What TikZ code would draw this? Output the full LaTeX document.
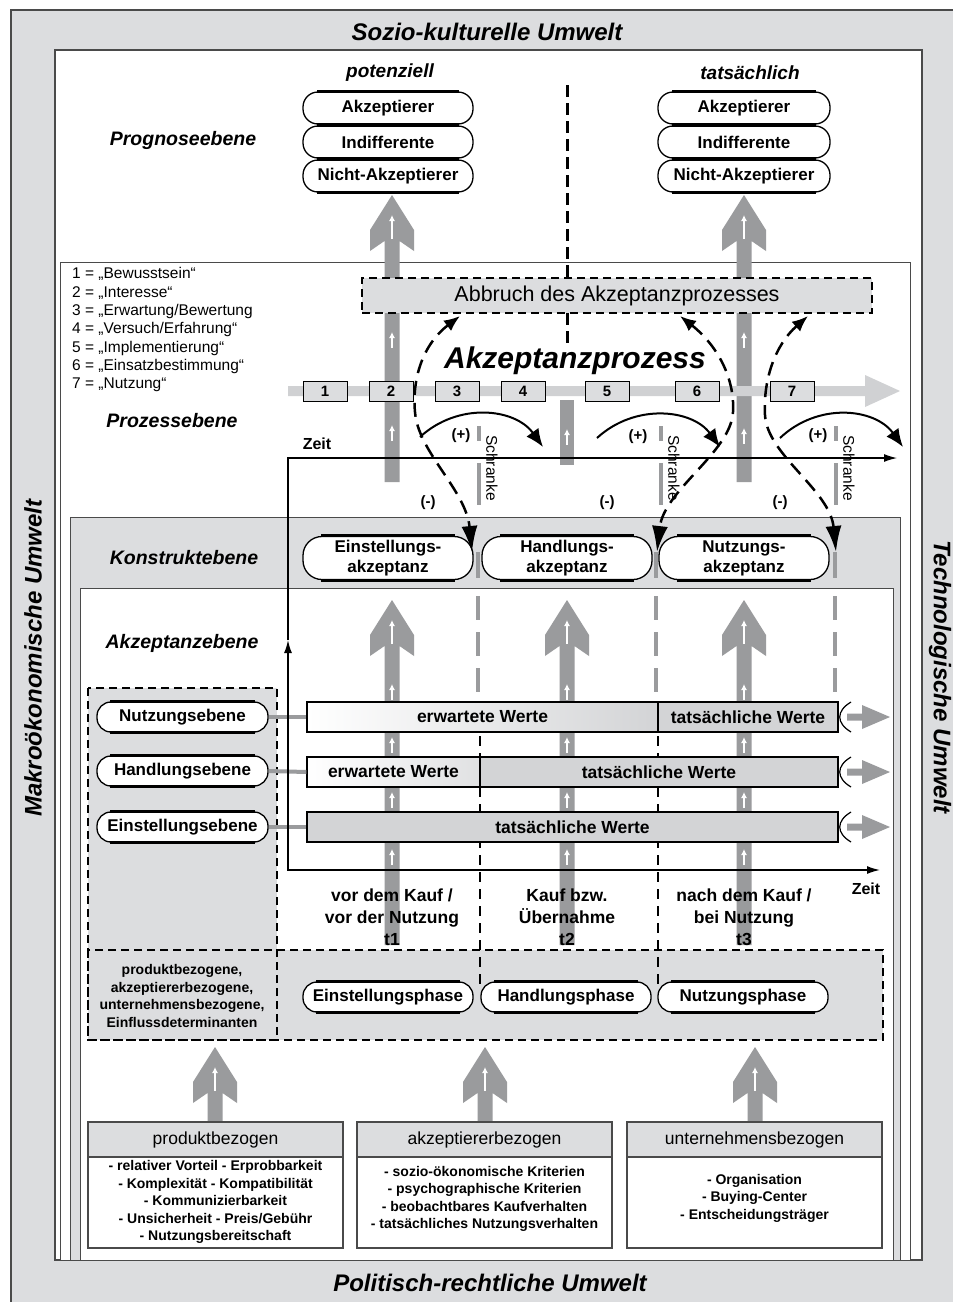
\documentclass[tikz,border=0pt]{standalone}
\usepackage{fontspec}
\setmainfont{Liberation Sans}
\usetikzlibrary{arrows.meta}
\definecolor{bg}{HTML}{DCDDDF}
\definecolor{arr}{HTML}{9A9B9D}
\definecolor{frm}{HTML}{4A4A4A}
\definecolor{lightarr}{HTML}{D0D1D3}
\definecolor{barfill}{HTML}{D3D4D6}
\newcommand\fsz[2]{\fontsize{#1}{#2}\selectfont}
\tikzset{
  pillbox/.style={draw, line width=1.3pt, fill=white, rounded corners=#1, inner sep=0pt, align=center, font=\bfseries\fsz{17}{20}},
  numbox/.style={draw, line width=0.9pt, fill=bg, minimum width=44pt, minimum height=20pt, inner sep=0pt, font=\bfseries\fsz{15}{15}},
  lvl/.style={font=\bfseries\itshape\fsz{19.5}{20}},
  env/.style={font=\bfseries\itshape\fsz{24}{24}},
  legend/.style={anchor=west, inner sep=0pt, font=\fsz{15.5}{15.5}},
  lbl/.style={font=\bfseries\fsz{15}{15}},
  seg/.style={draw, line width=1.2pt, minimum height=30pt, inner sep=0pt, font=\bfseries\fsz{17.5}{18}},
  dcurve/.style={line width=2.5pt, dash pattern=on 14pt off 8pt, {Latex[length=16pt,width=13pt]}-{Latex[length=26pt,width=16pt]}},
  pcurve/.style={line width=2pt, -{Latex[length=18pt,width=15pt]}},
  schr/.style={arr, line width=4pt},
  hdr/.style={draw=frm, line width=1.5pt, fill=bg, minimum width=255pt, minimum height=35pt, inner sep=0pt, font=\fsz{17.5}{17.5}},
  bodytxt/.style={align=center, inner sep=0pt, font=\bfseries\fsz{14}{17.4}},
  ddash/.style={line width=1.8pt, dash pattern=on 8pt off 5pt},
}
\newcommand\pill[7]{%
  \node[pillbox=#6pt, minimum width=#4pt, minimum height=#5pt] (#1) at (#2,#3) {#7};
  \draw[line width=3pt] ([xshift=#6pt]#1.north west) -- ([xshift=-#6pt]#1.north east);
  \draw[line width=3pt] ([xshift=#6pt]#1.south west) -- ([xshift=-#6pt]#1.south east);
}
\newcommand\bigarrow[3]{%
  \fill[arr] (#1-7.5,#3) -- (#1-7.5,#2+46) -- (#1-22,#2+56) -- (#1-22,#2+35) -- (#1,#2) -- (#1+22,#2+35) -- (#1+22,#2+56) -- (#1+7.5,#2+46) -- (#1+7.5,#3) -- cycle;
  \draw[white, line width=1.6pt, -{Latex[length=6pt,width=6pt]}] (#1,#2+44) -- (#1,#2+20);
}
\newcommand\smallup[2]{\draw[white, line width=1.6pt, -{Latex[length=6pt,width=6pt]}] (#1,#2+8) -- (#1,#2-8);}
\newcommand\brk[1]{%
  \draw[line width=1.2pt] (851,#1-15) .. controls (836,#1-6) and (836,#1+6) .. (851,#1+15);
  \fill[arr] (847,#1-3.5) -- (862,#1-3.5) -- (862,#1-12) -- (890,#1) -- (862,#1+12) -- (862,#1+3.5) -- (847,#1+3.5) -- cycle;
}
\begin{document}
\begin{tikzpicture}[x=1pt,y=-1pt]
\useasboundingbox (0,0) rectangle (953,1302);
% frames
\filldraw[fill=bg, draw=frm, line width=1.2pt] (11,10) rectangle (990,1340);
\filldraw[fill=white, draw=frm, line width=1.2pt] (55,50) rectangle (922,1260);
\filldraw[fill=white, draw=frm, line width=1pt] (60,262) rectangle (910,1260);
\filldraw[fill=bg, draw=frm, line width=1pt] (70,517) rectangle (900,1260);
\filldraw[fill=white, draw=frm, line width=1pt] (80,588) rectangle (893,1260);
% environment titles
\node[env] (sozio) at (487,32) {Sozio-kulturelle Umwelt};
\node[env] (polit) at (490,1283) {Politisch-rechtliche Umwelt};
\node[env, rotate=90] (makro) at (33,658) {Makroökonomische Umwelt};
\node[env, rotate=-90] (tech) at (940,677) {Technologische Umwelt};
% level labels
\node[lvl] (lprog) at (183,140) {Prognoseebene};
\node[lvl] (lproz) at (172,421) {Prozessebene};
\node[lvl] (lkon) at (184,558) {Konstruktebene};
\node[lvl] (lakz) at (182,643) {Akzeptanzebene};
% prognose
\node[font=\bfseries\itshape\fsz{19}{19}] (pot) at (390,73) {potenziell};
\node[font=\bfseries\itshape\fsz{19}{19}] (tat) at (750,73) {tatsächlich};
\pill{pa}{388}{108}{170}{32}{15}{Akzeptierer}
\pill{pi}{388}{142}{170}{32}{15}{Indifferente}
\pill{pn}{388}{176}{170}{32}{15}{Nicht-Akzeptierer}
\pill{ta}{744}{108}{172}{32}{15}{Akzeptierer}
\pill{ti}{744}{142}{172}{32}{15}{Indifferente}
\pill{tn}{744}{176}{172}{32}{15}{Nicht-Akzeptierer}
\coordinate (dtop) at (567,85);
% process shafts
\bigarrow{392}{195}{482}
\bigarrow{744}{195}{482}
\fill[arr] (560,400) rectangle (574,465);
\smallup{392}{340}\smallup{392}{433}\smallup{744}{340}\smallup{744}{436}\smallup{567}{437}
% abbruch box
\node[draw, line width=1.6pt, dash pattern=on 8pt off 5pt, fill=bg, minimum width=510pt, minimum height=35pt, inner sep=0pt, font=\fsz{21.5}{21.5}] (abbruch) at (617,295.5) {Abbruch des Akzeptanzprozesses};
\draw[line width=3pt, dash pattern=on 12pt off 6pt] (dtop) -- (dtop |- abbruch.north);
\coordinate (dmid) at (567,313);
\draw[line width=3pt, dash pattern=on 12pt off 6pt] (dmid) -- ++(0,34);
% legend
\node[legend] (l1) at (72,274) {1 = „Bewusstsein“};
\node[legend] (l2) at (72,293) {2 = „Interesse“};
\node[legend] (l3) at (72,311) {3 = „Erwartung/Bewertung};
\node[legend] (l4) at (72,329) {4 = „Versuch/Erfahrung“};
\node[legend] (l5) at (72,348) {5 = „Implementierung“};
\node[legend] (l6) at (72,366) {6 = „Einsatzbestimmung“};
\node[legend] (l7) at (72,385) {7 = „Nutzung“};
% process arrow
\node[font=\bfseries\itshape\fsz{30}{30}] (akzproz) at (575,361) {Akzeptanzprozess};
\fill[lightarr] (288,386) -- (865,386) -- (865,375) -- (900,391) -- (865,407) -- (865,396) -- (288,396) -- cycle;
\node[numbox] (n1) at (325,391) {1};
\node[numbox] (n2) at (391,391) {2};
\node[numbox] (n3) at (457,391) {3};
\node[numbox] (n4) at (523,391) {4};
\node[numbox] (n5) at (607,391) {5};
\node[numbox] (n6) at (697,391) {6};
\node[numbox] (n7) at (792,391) {7};
% time axes
\coordinate (ax0) at (288,458);
\coordinate (axm) at (288,640);
\coordinate (ax1) at (288,870);
\draw[line width=1.2pt, -{Latex[length=13pt,width=8pt]}] (axm) -- (ax0) -- (897,458);
\node[font=\bfseries\fsz{16}{16}] (zeit1) at (317,444) {Zeit};
% (+) curves
\draw[pcurve] (420,437) .. controls (458,402) and (515,408) .. (543,447);
\draw[pcurve] (597,438) .. controls (635,403) and (692,409) .. (720,447);
\draw[pcurve] (780,438) .. controls (818,402) and (875,408) .. (903,447);
\node[lbl] (p1) at (461,436) {(+)};
\node[lbl] (p2) at (638,437) {(+)};
\node[lbl] (p3) at (818,436) {(+)};
\node[lbl] (m1) at (428,503) {(-)};
\node[lbl] (m2) at (607,503) {(-)};
\node[lbl] (m3) at (780,503) {(-)};
\foreach \x in {479,661,836}{
  \draw[schr] (\x,426) -- (\x,441);
  \draw[schr] (\x,463) -- (\x,505);
  \node[rotate=-90, font=\fsz{15.5}{15.5}, inner sep=0pt] at (\x+13,468) {Schranke};
}
% construct pills
\pill{ke}{388}{558}{170}{43}{19}{Einstellungs-\\akzeptanz}
\pill{kh}{567}{558}{170}{43}{19}{Handlungs-\\akzeptanz}
\pill{kn}{744}{558}{170}{43}{19}{Nutzungs-\\akzeptanz}
\foreach \x in {478,656,835}{
  \draw[arr, line width=3.5pt] (\x,552) -- (\x,578);
  \draw[arr, line width=3.5pt, dash pattern=on 24pt off 12pt] (\x,596) -- (\x,702);
}
% dashed curves
\draw[dcurve] (460,316) .. controls (422,345) and (412,380) .. (415,412) .. controls (418,452) and (466,490) .. (472,552);
\draw[dcurve] (680,316) .. controls (717,345) and (735,378) .. (733,412) .. controls (731,452) and (664,490) .. (657,552);
\draw[dcurve] (808,316) .. controls (775,345) and (763,380) .. (765,415) .. controls (767,455) and (830,490) .. (836,552);
% acceptance level
\fill[bg] (88,688) rectangle (277,1040);
\fill[bg] (88,950) rectangle (883,1040);
\draw[ddash] (88,688) rectangle (277,1040);
\draw[ddash] (88,950) rectangle (883,1040);
\bigarrow{392}{600}{945}
\bigarrow{567}{600}{945}
\bigarrow{744}{600}{945}
\foreach \x in {392,567,744}{\smallup{\x}{692}\smallup{\x}{745}\smallup{\x}{800}\smallup{\x}{857}}
\draw[line width=1.5pt, dash pattern=on 10pt off 7pt] (480,702) -- (480,988);
\draw[line width=1.5pt, dash pattern=on 10pt off 7pt] (658,702) -- (658,988);
% rows
\pill{ln}{182.5}{717}{171}{30}{14}{Nutzungsebene}
\pill{lh}{182.5}{771}{171}{30}{14}{Handlungsebene}
\pill{le}{182.5}{827}{171}{30}{14}{Einstellungsebene}
\node[seg, minimum width=351pt, left color=white, right color=barfill] (na) at (482.5,717) {erwartete Werte};
\node[seg, minimum width=180pt, fill=barfill] (nb) at (748,717) {tatsächliche Werte};
\node[seg, minimum width=173pt, left color=white, right color=barfill!70] (ha) at (393.5,772) {erwartete Werte};
\node[seg, minimum width=358pt, fill=barfill] (hb) at (659,772) {tatsächliche Werte};
\node[seg, minimum width=531pt, fill=barfill] (ea) at (572.5,827) {tatsächliche Werte};
\draw[arr, line width=4pt] (ln.east) -- (na.west);
\draw[arr, line width=4pt] (lh.east) -- (ha.west);
\draw[arr, line width=4pt] (le.east) -- (ea.west);
\brk{717}\brk{772}\brk{827}
\draw[line width=1.6pt, {Latex[length=13pt,width=8pt]}-{Latex[length=13pt,width=8pt]}] (axm) -- (ax1) -- (880,870);
\node[font=\bfseries\fsz{16}{16}] (zeit2) at (866,889) {Zeit};
\node[align=center, font=\bfseries\fsz{17.5}{22}] (t1) at (392,917) {vor dem Kauf /\\vor der Nutzung\\t1};
\node[align=center, font=\bfseries\fsz{17.5}{22}] (t2) at (567,917) {Kauf bzw.\\Übernahme\\t2};
\node[align=center, font=\bfseries\fsz{17.5}{22}] (t3) at (744,917) {nach dem Kauf /\\bei Nutzung\\t3};
% phases
\node[align=center, inner sep=0pt, font=\bfseries\fsz{14}{17.4}] (einfl) at (182,996) {produktbezogene,\\akzeptiererbezogene,\\unternehmensbezogene,\\Einflussdeterminanten};
\pill{pe}{388}{997}{170}{30}{14}{Einstellungsphase}
\pill{ph}{566}{997}{170}{30}{14}{Handlungsphase}
\pill{pnz}{743}{997}{170}{30}{14}{Nutzungsphase}
% bottom
\bigarrow{215}{1047}{1122}
\bigarrow{485}{1047}{1122}
\bigarrow{755}{1047}{1122}
\node[hdr] (h1) at (215.5,1139.5) {produktbezogen};
\node[hdr] (h2) at (484.5,1139.5) {akzeptiererbezogen};
\node[hdr] (h3) at (754.5,1139.5) {unternehmensbezogen};
\draw[frm, line width=1.5pt, fill=white] (88,1157) rectangle (343,1248);
\draw[frm, line width=1.5pt, fill=white] (357,1157) rectangle (612,1248);
\draw[frm, line width=1.5pt, fill=white] (627,1157) rectangle (882,1248);
\node[bodytxt] (b1) at (215.5,1202) {- relativer Vorteil - Erprobbarkeit\\- Komplexität - Kompatibilität\\- Kommunizierbarkeit\\- Unsicherheit - Preis/Gebühr\\- Nutzungsbereitschaft};
\node[bodytxt] (b2) at (484.5,1199) {- sozio-ökonomische Kriterien\\- psychographische Kriterien\\- beobachtbares Kaufverhalten\\- tatsächliches Nutzungsverhalten};
\node[bodytxt] (b3) at (754.5,1198) {- Organisation\\- Buying-Center\\- Entscheidungsträger};
\end{tikzpicture}
\end{document}
